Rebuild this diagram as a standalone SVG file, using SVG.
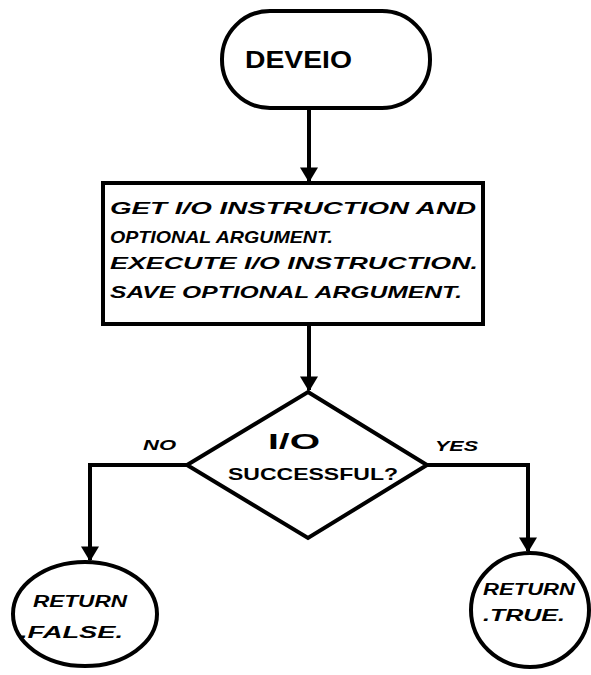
<svg xmlns="http://www.w3.org/2000/svg" width="591" height="675" viewBox="0 0 591 675">
  <style>
    .shape { fill: #fff; stroke: #000; stroke-width: 4; }
    .wire { fill: none; stroke: #000; stroke-width: 4; }
    .lbl { font-family: "Liberation Sans", Arial, sans-serif; font-weight: bold; font-style: italic; fill: #000; }
    .upright { font-style: normal; }
    .term { font-family: "Liberation Sans", Arial, sans-serif; font-weight: bold; fill: #000; font-size: 24px; }
  </style>
  <defs>
    <marker id="arrow" viewBox="0 0 10 12" refX="9" refY="6" markerWidth="4" markerHeight="4.5" orient="auto" markerUnits="strokeWidth">
      <path d="M0,0 L10,6 L0,12 Z" fill="#000"/>
    </marker>
  </defs>
  <rect width="591" height="675" fill="#fff"/>

  <g id="connectors">
    <path class="wire" d="M309,108 V181" marker-end="url(#arrow)"/>
    <path class="wire" d="M309,325 V390" marker-end="url(#arrow)"/>
    <path class="wire" d="M187,465 H90 V560" marker-end="url(#arrow)"/>
    <path class="wire" d="M427,465 H528 V551" marker-end="url(#arrow)"/>
  </g>

  <g id="start">
    <rect class="shape" x="222" y="11" width="208" height="97" rx="48" ry="48"/>
    <text class="term" x="245" y="68" textLength="107" lengthAdjust="spacingAndGlyphs">DEVEIO</text>
  </g>

  <g id="process">
    <rect class="shape" x="103" y="183" width="380" height="141"/>
    <text class="lbl" font-size="17" x="110" y="214" textLength="366" lengthAdjust="spacingAndGlyphs">GET I/O INSTRUCTION  AND</text>
    <text class="lbl" font-size="17" x="110" y="243" textLength="223" lengthAdjust="spacingAndGlyphs">OPTIONAL ARGUMENT.</text>
    <text class="lbl" font-size="17" x="110" y="269" textLength="368" lengthAdjust="spacingAndGlyphs">EXECUTE I/O INSTRUCTION.</text>
    <text class="lbl" font-size="17" x="110" y="298" textLength="352" lengthAdjust="spacingAndGlyphs">SAVE OPTIONAL ARGUMENT.</text>
  </g>

  <g id="decision">
    <polygon class="shape" points="308,392 427,465 308,538 187,465"/>
    <text class="lbl upright" font-size="22" x="268" y="449" textLength="52" lengthAdjust="spacingAndGlyphs">I/O</text>
    <text class="lbl upright" font-size="17" x="228" y="480" textLength="170" lengthAdjust="spacingAndGlyphs">SUCCESSFUL?</text>
    <text class="lbl" font-size="14" x="143" y="450" textLength="33" lengthAdjust="spacingAndGlyphs">NO</text>
    <text class="lbl" font-size="15" x="435" y="451" textLength="43" lengthAdjust="spacingAndGlyphs">YES</text>
  </g>

  <g id="return-false">
    <ellipse class="shape" cx="85" cy="614" rx="72" ry="52"/>
    <text class="lbl" font-size="16" x="33" y="607" textLength="94" lengthAdjust="spacingAndGlyphs">RETURN</text>
    <text class="lbl" font-size="16" x="20" y="638" textLength="103" lengthAdjust="spacingAndGlyphs">.FALSE.</text>
  </g>

  <g id="return-true">
    <ellipse class="shape" cx="530" cy="610" rx="59" ry="57"/>
    <text class="lbl" font-size="16" x="483" y="595" textLength="92" lengthAdjust="spacingAndGlyphs">RETURN</text>
    <text class="lbl" font-size="16" x="483" y="621" textLength="82" lengthAdjust="spacingAndGlyphs">.TRUE.</text>
  </g>
</svg>
